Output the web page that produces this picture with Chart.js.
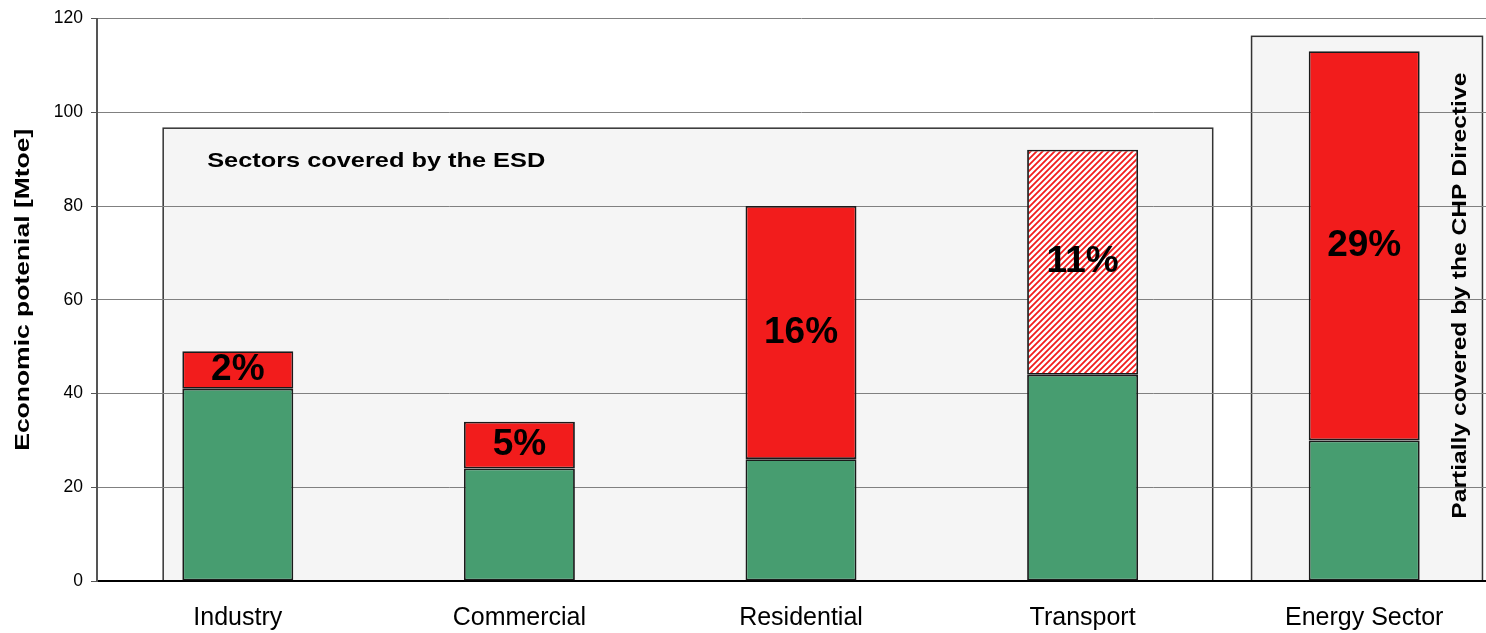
<!DOCTYPE html>
<html>
<head>
<meta charset="utf-8">
<script src="https://cdn.jsdelivr.net/npm/chart.js@4"></script>
<style>
html,body{margin:0;padding:0;background:#fff;overflow:hidden;width:1486px;height:633px;}
#wrap{width:1505px;height:633px;}
</style>
</head>
<body>
<div id="wrap"><canvas id="c" width="1505" height="633"></canvas></div>
<script>
const categories = ['Industry', 'Commercial', 'Residential', 'Transport', 'Energy Sector'];
const baseValues = [41, 24, 26, 44, 30];
const potentialValues = [8, 10, 54, 48, 83];
const percentLabels = ['2%', '5%', '16%', '11%', '29%'];
const hatchedIndex = 3;
const yTicks = [0, 20, 40, 60, 80, 100, 120];
const yTitle = 'Economic potenial [Mtoe]';

// shaded regions (category units / value units)
const esdRegion = { from: -0.265, to: 3.462, top: 96.6, label: 'Sectors covered by the ESD' };
const chpRegion = { from: 3.60, to: 4.42, top: 116.2, label: 'Partially covered by the CHP Directive' };

const FONT = "Arial, 'Liberation Sans', sans-serif";
const GREEN = '#479D70';
const RED = '#F21C1C';

function makeHatch() {
  const s = 6;
  const p = document.createElement('canvas');
  p.width = s; p.height = s;
  const g = p.getContext('2d');
  g.fillStyle = '#ffffff';
  g.fillRect(0, 0, s, s);
  g.strokeStyle = RED;
  g.lineWidth = 1.8;
  g.beginPath();
  g.moveTo(0, s); g.lineTo(s, 0);
  g.moveTo(-s / 2, s / 2); g.lineTo(s / 2, -s / 2);
  g.moveTo(s / 2, s * 1.5); g.lineTo(s * 1.5, s / 2);
  g.stroke();
  return g.createPattern(p, 'repeat');
}
const hatch = makeHatch();
const redColors = potentialValues.map((v, i) => i === hatchedIndex ? hatch : RED);

function catPx(x, v) {
  const p0 = x.getPixelForValue(0), p1 = x.getPixelForValue(1);
  return p0 + v * (p1 - p0);
}

// draws text stretched to a target length along its baseline
function stretchedText(ctx, text, cx, cy, size, targetLen, rotate, align) {
  ctx.save();
  ctx.font = 'bold ' + size + 'px ' + FONT;
  const w = ctx.measureText(text).width;
  const k = targetLen / w;
  ctx.translate(cx, cy);
  if (rotate) ctx.rotate(-Math.PI / 2);
  ctx.scale(k, 1);
  ctx.textAlign = align || 'center';
  ctx.textBaseline = 'middle';
  ctx.fillStyle = '#000';
  ctx.fillText(text, 0, 0);
  ctx.restore();
}

const regionsPlugin = {
  id: 'regions',
  beforeDraw(chart) {
    const { ctx, scales: { x, y } } = chart;
    ctx.save();
    [esdRegion, chpRegion].forEach(r => {
      const l = catPx(x, r.from), rr = catPx(x, r.to);
      const t = y.getPixelForValue(r.top), b = y.getPixelForValue(0);
      ctx.fillStyle = '#F5F5F5';
      ctx.fillRect(l, t, rr - l, b - t);
      ctx.strokeStyle = '#333';
      ctx.lineWidth = 1.5;
      ctx.strokeRect(l, t, rr - l, b - t);
    });
    ctx.restore();
  },
  afterDatasetsDraw(chart) {
    const { ctx, scales: { x, y } } = chart;
    ctx.save();
    ctx.fillStyle = '#000';
    ctx.font = "bold 37px " + FONT;
    ctx.textAlign = 'center';
    ctx.textBaseline = 'middle';
    percentLabels.forEach((t, i) => {
      const mid = baseValues[i] + potentialValues[i] / 2;
      ctx.fillText(t, x.getPixelForValue(i), y.getPixelForValue(mid));
    });
    ctx.restore();
    // region labels
    stretchedText(ctx, esdRegion.label, catPx(x, esdRegion.from) + 44, y.getPixelForValue(esdRegion.top) + 33, 21, 338, false, 'left');
    stretchedText(ctx, chpRegion.label, catPx(x, chpRegion.to) - 22,
      (y.getPixelForValue(chpRegion.top) + y.getPixelForValue(0)) / 2 - 13, 21, 446, true, 'center');
    // y axis title
    stretchedText(ctx, yTitle, 24, (y.top + y.bottom) / 2 - 10, 19.5, 322, true, 'center');
  }
};

new Chart(document.getElementById('c'), {
  type: 'bar',
  data: {
    labels: categories,
    datasets: [
      { label: 'Base', data: baseValues, backgroundColor: GREEN, borderColor: '#1a1a1a', borderWidth: 1.8, borderSkipped: false },
      { label: 'Potential', data: potentialValues, backgroundColor: redColors, borderColor: '#1a1a1a', borderWidth: 1.8, borderSkipped: false }
    ]
  },
  options: {
    responsive: false,
    animation: false,
    devicePixelRatio: 1,
    layout: { padding: { top: 12, left: 0, right: 0, bottom: 0 } },
    plugins: { legend: { display: false }, tooltip: { enabled: false } },
    datasets: { bar: { barPercentage: 1, categoryPercentage: 0.394 } },
    scales: {
      x: {
        stacked: true,
        grid: { display: false, drawTicks: false },
        border: { display: true, color: '#000', width: 2 },
        ticks: { color: '#000', font: { family: FONT, size: 25 }, padding: 22 },
        afterFit(s) { s.height = 52; }
      },
      y: {
        stacked: true,
        min: 0, max: 120,
        afterBuildTicks(s) { s.ticks = yTicks.map(v => ({ value: v })); },
        afterFit(s) { s.width = 97; },
        grid: { color: '#808080', lineWidth: 1, tickLength: 6, tickColor: '#555' },
        border: { display: true, color: '#555', width: 2 },
        ticks: { color: '#000', font: { family: FONT, size: 17.5 }, padding: 8 },
        title: { display: false }
      }
    }
  },
  plugins: [regionsPlugin]
});
</script>
</body>
</html>
